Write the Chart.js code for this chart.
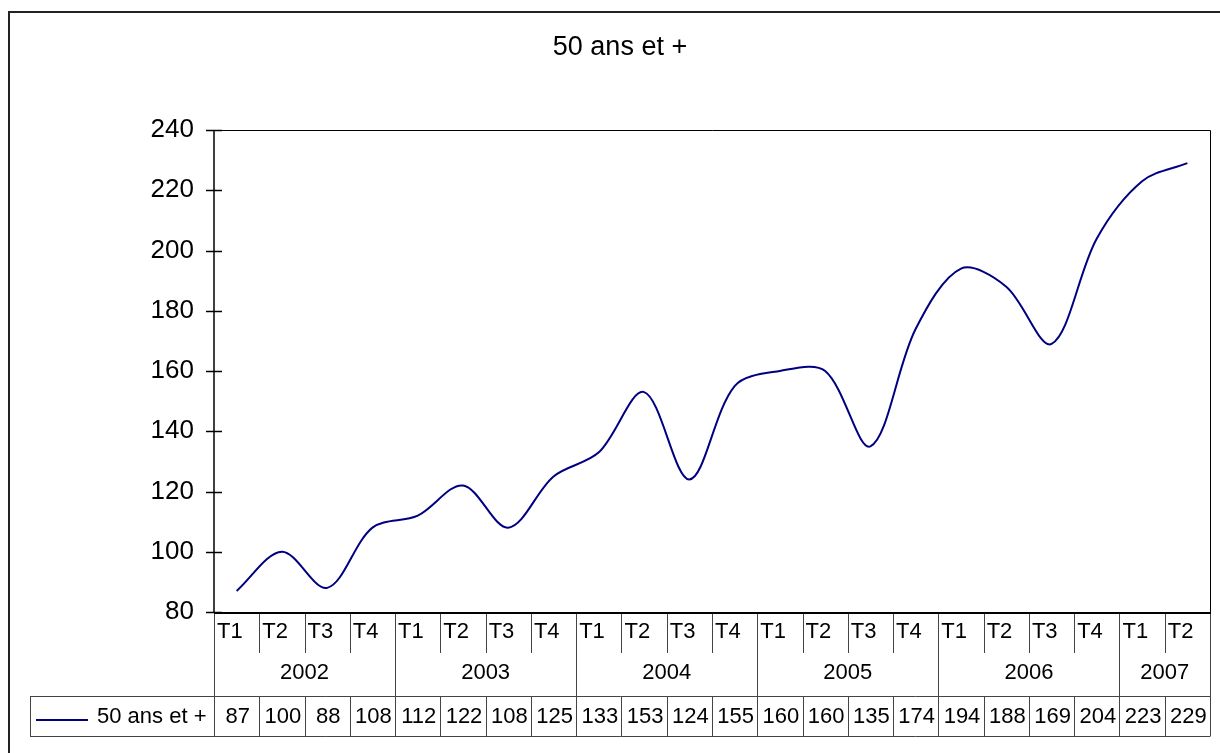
<!DOCTYPE html>
<html>
<head>
<meta charset="utf-8">
<script src="https://cdn.jsdelivr.net/npm/chart.js@4/dist/chart.umd.min.js"></script>
<style>
  html, body { margin: 0; padding: 0; background: #fff; }
  #wrap { width: 1220px; height: 753px; }
</style>
</head>
<body>
<div id="wrap"><canvas id="chart" width="1220" height="753"></canvas></div>
<script>
var title = "50 ans et +";
var seriesName = "50 ans et +";
var quarters = ["T1","T2","T3","T4","T1","T2","T3","T4","T1","T2","T3","T4","T1","T2","T3","T4","T1","T2","T3","T4","T1","T2"];
var years = ["2002","2003","2004","2005","2006","2007"];
var yearSpans = [4, 4, 4, 4, 4, 2];
var values = [87, 100, 88, 108, 112, 122, 108, 125, 133, 153, 124, 155, 160, 160, 135, 174, 194, 188, 169, 204, 223, 229];
var yTicks = [80, 100, 120, 140, 160, 180, 200, 220, 240];

var FONT = "'Liberation Sans', Arial, sans-serif";
var LINE = "#000080";

var frame = {
  id: "frame",
  afterDraw: function (chart) {
    var ctx = chart.ctx;
    var a = chart.chartArea;
    var xs = chart.scales.x;
    var ys = chart.scales.y;
    var n = quarters.length;
    var w = (a.right - a.left) / n;
    var edge = function (i) { return a.left + i * w; };
    var row1 = 653, row2 = 696, row3 = 736, legendLeft = 30;

    ctx.save();
    // outer frame
    ctx.strokeStyle = "#222";
    ctx.lineWidth = 2;
    ctx.beginPath();
    ctx.moveTo(9, 760); ctx.lineTo(9, 12); ctx.lineTo(1230, 12);
    ctx.stroke();

    // title
    ctx.fillStyle = "#000";
    ctx.font = "27px " + FONT;
    ctx.textAlign = "center";
    ctx.textBaseline = "middle";
    ctx.fillText(title, 620, 48);

    // plot box top/right
    ctx.strokeStyle = "#000";
    ctx.lineWidth = 1;
    ctx.beginPath();
    ctx.moveTo(a.left, a.top + 0.5); ctx.lineTo(a.right + 0.5, a.top + 0.5); ctx.lineTo(a.right + 0.5, a.bottom);
    ctx.stroke();

    // y axis and ticks
    ctx.lineWidth = 1.5;
    ctx.beginPath();
    ctx.moveTo(a.left, a.top); ctx.lineTo(a.left, a.bottom);
    yTicks.forEach(function (v) {
      var y = Math.round(ys.getPixelForValue(v)) + 0.5;
      ctx.moveTo(a.left - 8, y); ctx.lineTo(a.left + 8, y);
    });
    ctx.stroke();

    // table lines
    ctx.strokeStyle = "#444";
    ctx.lineWidth = 1;
    ctx.beginPath();
    ctx.moveTo(legendLeft, row2 + 0.5); ctx.lineTo(a.right + 0.5, row2 + 0.5);
    ctx.moveTo(legendLeft, row3 + 0.5); ctx.lineTo(a.right + 0.5, row3 + 0.5);
    ctx.moveTo(legendLeft + 0.5, row2); ctx.lineTo(legendLeft + 0.5, row3);
    var starts = [0];
    yearSpans.forEach(function (s, i) { starts.push(starts[i] + s); });
    for (var i = 0; i <= n; i++) {
      var x = Math.round(edge(i)) + 0.5;
      var top = a.bottom;
      if (i === 0 || i === n || starts.indexOf(i) >= 0) {
        ctx.moveTo(x, top); ctx.lineTo(x, row3);
      } else {
        ctx.moveTo(x, top); ctx.lineTo(x, row1);
        ctx.moveTo(x, row2); ctx.lineTo(x, row3);
      }
    }
    ctx.stroke();

    // x axis line
    ctx.strokeStyle = "#000";
    ctx.lineWidth = 2;
    ctx.beginPath();
    ctx.moveTo(a.left, a.bottom + 1); ctx.lineTo(a.right + 1, a.bottom + 1);
    ctx.stroke();

    // table text
    ctx.fillStyle = "#000";
    ctx.font = "22px " + FONT;
    ctx.textBaseline = "middle";
    ctx.textAlign = "left";
    quarters.forEach(function (q, i) {
      ctx.fillText(q, edge(i) + 3, 632);
    });
    ctx.textAlign = "center";
    years.forEach(function (yr, i) {
      var x0 = edge(starts[i]), x1 = edge(starts[i + 1]);
      ctx.fillText(yr, (x0 + x1) / 2, 673);
    });
    values.forEach(function (v, i) {
      ctx.fillText(String(v), xs.getPixelForValue(i) + 1, 717);
    });

    // legend key
    ctx.textAlign = "left";
    ctx.fillText(seriesName, 97, 717);
    ctx.strokeStyle = LINE;
    ctx.lineWidth = 2;
    ctx.beginPath();
    ctx.moveTo(36, 720); ctx.lineTo(88, 720);
    ctx.stroke();
    ctx.restore();
  }
};

new Chart(document.getElementById("chart"), {
  type: "line",
  data: {
    labels: quarters,
    datasets: [{
      label: seriesName,
      data: values,
      borderColor: LINE,
      borderWidth: 2,
      pointRadius: 0,
      tension: 0.33,
      fill: false
    }]
  },
  options: {
    responsive: false,
    animation: false,
    devicePixelRatio: 1,
    layout: { padding: { left: 0, top: 130, right: 10, bottom: 141 } },
    plugins: { legend: { display: false }, title: { display: false }, tooltip: { enabled: false } },
    scales: {
      x: { display: false, offset: true },
      y: {
        min: 80,
        max: 240,
        afterFit: function (scale) { scale.width = 214; },
        afterBuildTicks: function (scale) { scale.ticks = yTicks.map(function (v) { return { value: v }; }); },
        grid: { display: false },
        border: { display: false },
        ticks: { color: "#000", padding: 12, font: { family: FONT, size: 26 } }
      }
    }
  },
  plugins: [frame]
});
</script>
</body>
</html>
